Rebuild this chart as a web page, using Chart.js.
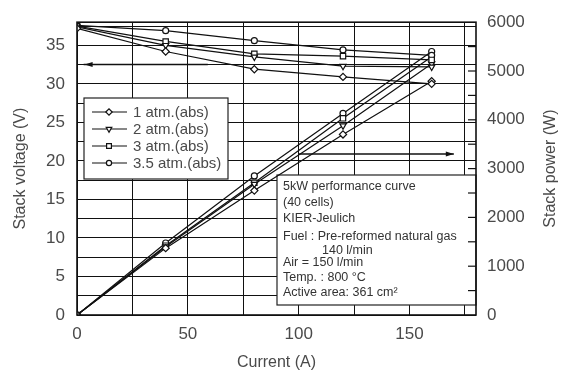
<!DOCTYPE html>
<html>
<head>
<meta charset="utf-8">
<script src="https://cdn.jsdelivr.net/npm/chart.js@4.4.0/dist/chart.umd.min.js"></script>
<style>
  html, body { margin: 0; padding: 0; background: #fff; }
  #wrap { width: 566px; height: 372px; }
</style>
</head>
<body>
<div id="wrap"><canvas id="chart" width="566" height="372"></canvas></div>
<script>
// current (A) where the points were measured
const current = [0, 40, 80, 120, 160];

// stack voltage (V)
const volt1 = [37.2, 34.2, 31.9, 30.9, 30.0];
const volt2 = [37.4, 35.0, 33.5, 32.3, 32.2];
const volt3 = [37.5, 35.5, 33.9, 33.6, 33.1];
const volt35 = [37.6, 36.9, 35.6, 34.4, 33.7];

// stack power (W)
const power1 = [0, 1370, 2550, 3700, 4790];
const power2 = [0, 1400, 2680, 3880, 5150];
const power3 = [0, 1420, 2710, 4030, 5290];
const power35 = [0, 1475, 2850, 4130, 5400];

const seriesNames = ["1 atm.(abs)", "2 atm.(abs)", "3 atm.(abs)", "3.5 atm.(abs)"];

// axis ticks
const xTicks = [0, 25, 50, 75, 100, 125, 150, 175];
const xLabels = [0, 50, 100, 150];
const vTicks = [0, 2.5, 5, 7.5, 10, 12.5, 15, 17.5, 20, 22.5, 25, 27.5, 30, 32.5, 35, 37.5];
const vLabels = [0, 5, 10, 15, 20, 25, 30, 35];
const pTicks = [0, 1000, 2000, 3000, 4000, 5000, 6000];
const pMinor = [500, 1000, 1500, 2000, 2500, 3000, 3500, 4000, 4500, 5000, 5500];

const infoLines = [
  ["5kW performance curve", 0],
  ["(40 cells)", 0],
  ["KIER-Jeulich", 0],
  ["Fuel : Pre-reformed natural gas", 0],
  ["140 l/min", 1],
  ["Air = 150 l/min", 0],
  ["Temp. : 800 \u00B0C", 0],
  ["Active area: 361 cm\u00B2", 0],
];
const infoOffsets = [12, 28, 44, 62, 76, 88, 103, 118];

const markers = [
  { pointStyle: "rectRot", rotation: 0, radius: 3.6 },
  { pointStyle: "triangle", rotation: 180, radius: 3.6 },
  { pointStyle: "rect", rotation: 0, radius: 3.8 },
  { pointStyle: "circle", rotation: 0, radius: 3 },
];

function makeSet(vals, i, axis, label) {
  return {
    label: label,
    data: current.map((c, k) => ({ x: c, y: vals[k] })),
    yAxisID: axis,
    borderColor: "#111",
    borderWidth: 1.2,
    backgroundColor: "#fff",
    pointBackgroundColor: "#fff",
    pointBorderColor: "#111",
    pointBorderWidth: 1.2,
    pointStyle: markers[i].pointStyle,
    pointRotation: markers[i].rotation,
    pointRadius: markers[i].radius,
    fill: false,
    tension: 0,
  };
}

const volts = [volt1, volt2, volt3, volt35];
const powers = [power1, power2, power3, power35];
const datasets = [];
volts.forEach((v, i) => datasets.push(makeSet(v, i, "y", seriesNames[i])));
powers.forEach((p, i) => datasets.push(makeSet(p, i, "y2", "")));

const FONT = "'Liberation Sans', Arial, sans-serif";
const TEXT = "#4a4a4a";

// boxes, arrows, frame, minor ticks and the right axis title
const overlay = {
  id: "overlay",
  beforeDatasetsDraw(chart) {
    const { ctx, chartArea: a, scales } = chart;
    const xs = scales.x, ys = scales.y, ps = scales.y2;
    ctx.save();

    // voltage arrow (points left)
    let y = ys.getPixelForValue(32.5);
    let x0 = xs.getPixelForValue(3), x1 = xs.getPixelForValue(59);
    ctx.strokeStyle = "#111";
    ctx.fillStyle = "#111";
    ctx.lineWidth = 1.5;
    ctx.beginPath(); ctx.moveTo(x0, y); ctx.lineTo(x1, y); ctx.stroke();
    ctx.beginPath(); ctx.moveTo(x0 + 1, y); ctx.lineTo(x0 + 9, y - 2.5); ctx.lineTo(x0 + 9, y + 2.5); ctx.closePath(); ctx.fill();

    // power arrow (points right)
    y = ps.getPixelForValue(3300);
    x0 = xs.getPixelForValue(100); x1 = xs.getPixelForValue(170);
    ctx.beginPath(); ctx.moveTo(x0, y); ctx.lineTo(x1, y); ctx.stroke();
    ctx.beginPath(); ctx.moveTo(x1, y); ctx.lineTo(x1 - 8, y - 2.5); ctx.lineTo(x1 - 8, y + 2.5); ctx.closePath(); ctx.fill();

    // legend box
    const lx = 84, ly = 98, lw = 144, lh = 81;
    ctx.fillStyle = "#fff";
    ctx.fillRect(lx, ly, lw, lh);
    ctx.lineWidth = 1.2;
    ctx.strokeStyle = "#222";
    ctx.strokeRect(lx, ly, lw, lh);
    ctx.font = "15px " + FONT;
    ctx.textBaseline = "middle";
    seriesNames.forEach((name, i) => {
      const yy = ly + 14 + i * 17;
      ctx.strokeStyle = "#111";
      ctx.lineWidth = 1.2;
      ctx.beginPath(); ctx.moveTo(lx + 8, yy); ctx.lineTo(lx + 43, yy); ctx.stroke();
      ctx.fillStyle = "#fff";
      Chart.helpers.drawPoint(ctx, {
        pointStyle: markers[i].pointStyle,
        rotation: markers[i].rotation,
        radius: markers[i].radius - 0.4,
        borderWidth: 1.2,
      }, lx + 25, yy);
      ctx.fillStyle = TEXT;
      ctx.fillText(name, lx + 49, yy + 1);
    });

    // info box
    const bx = 277, by = 175, bw = a.right - 277, bh = 130;
    ctx.fillStyle = "#fff";
    ctx.fillRect(bx, by, bw, bh);
    ctx.strokeStyle = "#222";
    ctx.lineWidth = 1.2;
    ctx.strokeRect(bx, by, bw, bh);
    ctx.font = "12.5px " + FONT;
    ctx.fillStyle = "#333";
    infoLines.forEach((ln, i) => {
      ctx.fillText(ln[0], bx + 6 + (ln[1] ? 39 : 0), by + infoOffsets[i]);
    });

    ctx.restore();
  },
  afterDatasetsDraw(chart) {
    const { ctx, chartArea: a, scales } = chart;
    ctx.save();
    ctx.strokeStyle = "#111";
    ctx.lineWidth = 1.2;
    pMinor.forEach((p) => {
      const y = scales.y2.getPixelForValue(p);
      ctx.beginPath(); ctx.moveTo(a.right - 8, y); ctx.lineTo(a.right, y); ctx.stroke();
    });
    ctx.lineWidth = 1.6;
    ctx.strokeRect(a.left, a.top, a.right - a.left, a.bottom - a.top);

    // right title reads bottom to top, like the left one
    ctx.translate(551, (a.top + a.bottom) / 2);
    ctx.rotate(-Math.PI / 2);
    ctx.font = "16px " + FONT;
    ctx.fillStyle = TEXT;
    ctx.textAlign = "center";
    ctx.textBaseline = "middle";
    ctx.fillText("Stack power (W)", 0, 0);
    ctx.restore();
  },
};

new Chart(document.getElementById("chart").getContext("2d"), {
  type: "line",
  data: { datasets: datasets },
  options: {
    responsive: false,
    animation: false,
    layout: { padding: { top: 19, left: 0, right: 0, bottom: 0 } },
    plugins: { legend: { display: false }, tooltip: { enabled: false } },
    scales: {
      x: {
        type: "linear",
        min: 0,
        max: 180,
        afterBuildTicks: (s) => { s.ticks = xTicks.map((v) => ({ value: v })); },
        afterFit: (s) => { s.height = 57; },
        ticks: {
          color: TEXT,
          font: { family: FONT, size: 17 },
          padding: 9,
          maxRotation: 0,
          autoSkip: false,
          callback: (v) => (xLabels.includes(v) ? String(v) : ""),
        },
        grid: { color: "#111", lineWidth: 1, drawTicks: false },
        border: { display: false },
        title: { display: true, text: "Current (A)", color: TEXT, font: { family: FONT, size: 16 }, padding: { bottom: 0 } },
      },
      y: {
        type: "linear",
        position: "left",
        min: 0,
        max: 38,
        afterBuildTicks: (s) => { s.ticks = vTicks.map((v) => ({ value: v })); },
        afterFit: (s) => { s.width = 77; },
        ticks: {
          color: TEXT,
          font: { family: FONT, size: 17 },
          padding: 12,
          autoSkip: false,
          callback: (v) => (vLabels.includes(v) ? String(v) : ""),
        },
        grid: { color: "#111", lineWidth: 1, drawTicks: false },
        border: { display: false },
        title: { display: true, text: "Stack voltage (V)", color: TEXT, font: { family: FONT, size: 16 }, padding: { top: 11 } },
      },
      y2: {
        type: "linear",
        position: "right",
        min: 0,
        max: 6000,
        afterBuildTicks: (s) => { s.ticks = pTicks.map((v) => ({ value: v })); },
        afterFit: (s) => { s.width = 90; },
        ticks: {
          color: TEXT,
          font: { family: FONT, size: 17 },
          padding: 11,
          autoSkip: false,
          callback: (v) => String(v),
        },
        grid: { drawOnChartArea: false, drawTicks: false },
        border: { display: false },
        title: { display: false },
      },
    },
  },
  plugins: [overlay],
});
</script>
</body>
</html>
